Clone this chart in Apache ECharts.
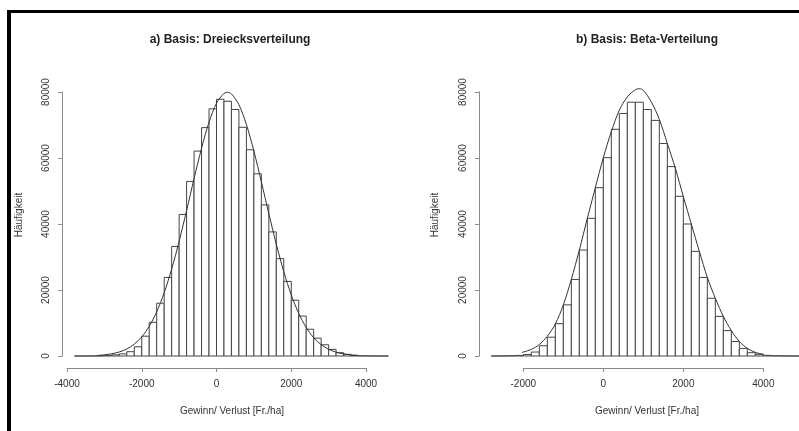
<!DOCTYPE html>
<html><head><meta charset="utf-8">
<script src="https://cdn.jsdelivr.net/npm/echarts@6/dist/echarts.min.js"></script>
<style>html,body{margin:0;padding:0;background:#fff}#c{width:799px;height:431px}</style>
</head><body><div id="c"></div>
<script>
// ---- data ----
const binWidth = 200;
const titles = ['a) Basis: Dreiecksverteilung', 'b) Basis: Beta-Verteilung'];
const xAxisTitle = 'Gewinn/ Verlust [Fr./ha]';
const yAxisTitle = 'Häufigkeit';

const leftXTicks = [-4000, -2000, 0, 2000, 4000];
const rightXTicks = [-2000, 0, 2000, 4000];
const yTicks = [0, 20000, 40000, 60000, 80000];

const leftBinStarts = [-3800,-3600,-3400,-3200,-3000,-2800,-2600,-2400,-2200,-2000,-1800,-1600,-1400,-1200,-1000,-800,-600,-400,-200,0,200,400,600,800,1000,1200,1400,1600,1800,2000,2200,2400,2600,2800,3000,3200,3400,3600,3800,4000,4200,4400];
const leftCounts = [0,0,30,80,200,350,650,1300,2800,6000,10200,16000,23800,33200,42900,52900,62100,69200,74900,77800,77200,74700,69300,62500,55200,45800,37600,29500,22600,16900,12100,8100,5400,3400,2000,1000,500,200,60,20,5,0];

const leftCurveX = [-3180,-3000,-2800,-2600,-2400,-2200,-2000,-1800,-1600,-1400,-1200,-1000,-800,-600,-400,-200,0,200,290,400,600,800,1000,1200,1400,1600,1800,2000,2200,2400,2600,2800,3000,3200,3400,3600,3780];
const leftCurveY = [180,360,680,1230,2140,3600,5810,9000,13390,19160,26330,34770,44110,53770,62970,70860,76610,79580,79900,79420,76150,70160,62100,52810,43150,33880,25560,18520,12900,8630,5550,3430,2030,1160,640,330,170];

const rightBinStarts = [-2800,-2600,-2400,-2200,-2000,-1800,-1600,-1400,-1200,-1000,-800,-600,-400,-200,0,200,400,600,800,1000,1200,1400,1600,1800,2000,2200,2400,2600,2800,3000,3200,3400,3600,3800,4000,4200,4400,4600,4800];
const rightCounts = [10,30,80,180,450,1200,3100,5700,9800,15500,23200,32100,41700,51000,60100,68700,73500,76900,76900,74700,71400,64400,57400,48400,40000,31700,23800,17500,12000,7700,4400,2300,1000,500,200,80,30,10,0];

const rightCurveX = [-2550,-2400,-2200,-2000,-1800,-1600,-1400,-1200,-1000,-800,-600,-400,-200,0,200,400,600,800,900,1000,1200,1400,1600,1800,2000,2200,2400,2600,2800,3000,3200,3400,3600,3800,4000,4200,4330];
const rightCurveY = [100,150,500,1200,2000,3500,6000,9700,15500,23200,32100,41700,51000,60100,68000,74500,78500,80700,81000,80500,77000,71700,64400,56900,48300,40000,31700,23800,17500,12000,7700,4400,2300,1100,500,150,50];

// ---- chart ----
const FONT = '"Liberation Sans", Arial, sans-serif';
const axisColor = '#8a8a8a';
const labelColor = '#333';

function binData(starts, counts) {
  return starts.map((s, i) => [s, s + binWidth, counts[i]]);
}
function curveData(xs, ys) { return xs.map((x, i) => [x, ys[i]]); }

function renderBar(params, api) {
  const p0 = api.coord([api.value(0), 0]);
  const p1 = api.coord([api.value(1), api.value(2)]);
  return {
    type: 'rect',
    shape: { x: p0[0], y: p1[1], width: p1[0] - p0[0], height: p0[1] - p1[1] },
    style: { fill: '#fff', stroke: '#444', lineWidth: 1 }
  };
}

function xAxisCfg(idx, ticks) {
  return {
    type: 'value', gridIndex: idx, min: ticks[0], max: ticks[ticks.length - 1], interval: 2000,
    offset: 12,
    axisLine: { show: true, onZero: false, lineStyle: { color: axisColor, width: 1 } },
    axisTick: { show: true, length: 4, lineStyle: { color: axisColor } },
    axisLabel: { fontSize: 10, color: labelColor, fontFamily: FONT, margin: 11, formatter: v => String(v) },
    splitLine: { show: false }
  };
}
function yAxisCfg(idx, offset) {
  return {
    type: 'value', gridIndex: idx, min: yTicks[0], max: yTicks[yTicks.length - 1], interval: 20000,
    offset: offset,
    axisLine: { show: true, onZero: false, lineStyle: { color: axisColor, width: 1 } },
    axisTick: { show: true, length: 4, lineStyle: { color: axisColor } },
    axisLabel: { fontSize: 10, color: labelColor, fontFamily: FONT, rotate: 90, margin: 11, formatter: v => String(v) },
    splitLine: { show: false }
  };
}

const chart = echarts.init(document.getElementById('c'), null, { renderer: 'canvas' });
chart.setOption({
  animation: false,
  backgroundColor: '#fff',
  grid: [
    { left: 67, top: 92, width: 299, height: 264 },
    { left: 523.33, top: 92, width: 240, height: 264 }
  ],
  xAxis: [xAxisCfg(0, leftXTicks), xAxisCfg(1, rightXTicks)],
  yAxis: [yAxisCfg(0, 4.7), yAxisCfg(1, 44.3)],
  series: [
    { type: 'custom', xAxisIndex: 0, yAxisIndex: 0, renderItem: renderBar, clip: false,
      data: binData(leftBinStarts, leftCounts), z: 2 },
    { type: 'line', xAxisIndex: 0, yAxisIndex: 0, data: curveData(leftCurveX, leftCurveY),
      smooth: 0.3, showSymbol: false, clip: false, lineStyle: { color: '#333', width: 1 }, z: 3 },
    { type: 'custom', xAxisIndex: 1, yAxisIndex: 1, renderItem: renderBar, clip: false,
      data: binData(rightBinStarts, rightCounts), z: 2 },
    { type: 'line', xAxisIndex: 1, yAxisIndex: 1, data: curveData(rightCurveX, rightCurveY),
      smooth: 0.3, showSymbol: false, clip: false, lineStyle: { color: '#333', width: 1 }, z: 3 }
  ],
  graphic: [
    { type: 'rect', shape: { x: 8, y: 10, width: 791, height: 3 }, style: { fill: '#000' } },
    { type: 'rect', shape: { x: 7, y: 10, width: 4, height: 421 }, style: { fill: '#000' } },
    { type: 'text', x: 230, y: 40, style: { text: titles[0], font: 'bold 12px ' + FONT, fill: '#222', textAlign: 'center', textVerticalAlign: 'middle' } },
    { type: 'text', x: 647, y: 40, style: { text: titles[1], font: 'bold 12px ' + FONT, fill: '#222', textAlign: 'center', textVerticalAlign: 'middle' } },
    { type: 'text', x: 232, y: 411, style: { text: xAxisTitle, font: '10px ' + FONT, fill: '#333', textAlign: 'center', textVerticalAlign: 'middle' } },
    { type: 'text', x: 647, y: 411, style: { text: xAxisTitle, font: '10px ' + FONT, fill: '#333', textAlign: 'center', textVerticalAlign: 'middle' } },
    { type: 'text', x: 19, y: 215, rotation: Math.PI / 2, style: { text: yAxisTitle, font: '10px ' + FONT, fill: '#333', textAlign: 'center', textVerticalAlign: 'middle' } },
    { type: 'text', x: 435, y: 215, rotation: Math.PI / 2, style: { text: yAxisTitle, font: '10px ' + FONT, fill: '#333', textAlign: 'center', textVerticalAlign: 'middle' } }
  ]
});
</script></body></html>
